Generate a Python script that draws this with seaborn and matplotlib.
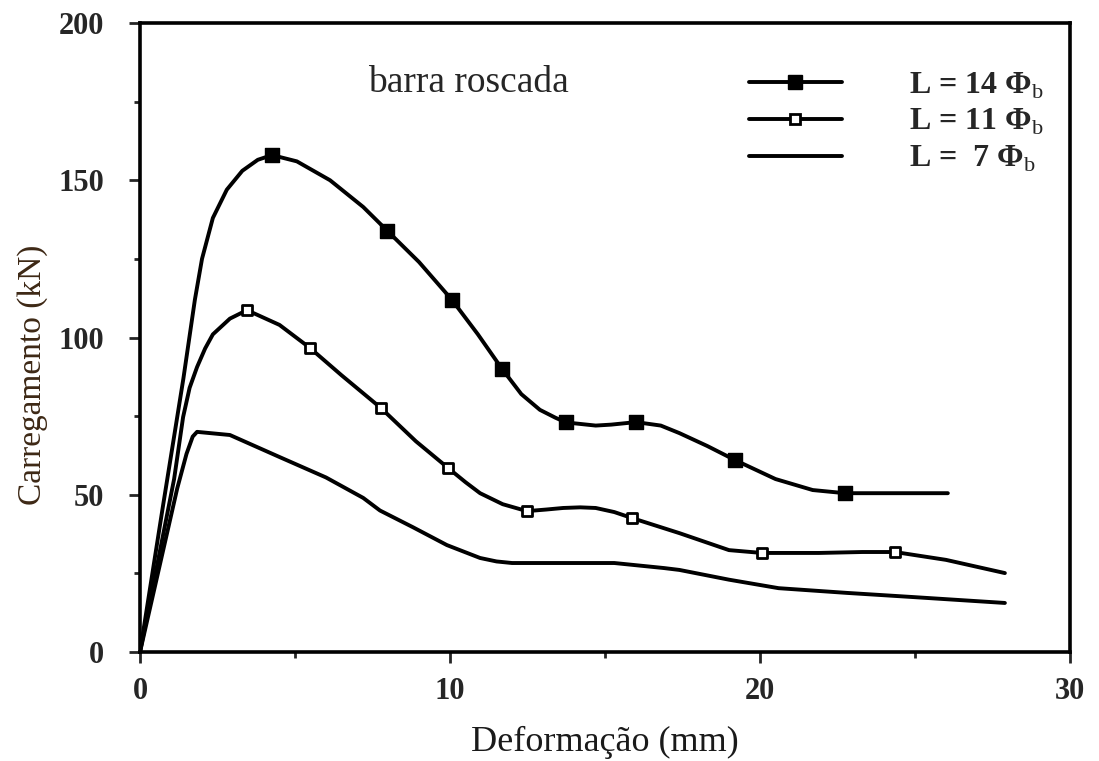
import numpy as np
import pandas as pd
import matplotlib
matplotlib.use('Agg')
import matplotlib.pyplot as plt
from matplotlib.lines import Line2D
from matplotlib.ticker import MultipleLocator
import seaborn as sns

# curve values (deformation mm, load kN)
x_14 = [0, 0.75, 1.4, 1.77, 2.0, 2.35, 2.8, 3.3, 3.8, 4.26, 5.06, 6.13, 7.2,
        7.97, 9.0, 10.06, 10.9, 11.68, 12.3, 12.9, 13.4, 13.74, 14.7, 15.2,
        16.0, 16.8, 17.4, 18.3, 19.2, 20.5, 21.7, 22.74, 24.5, 26.06]
y_14 = [0, 47, 87, 112, 125, 138, 147, 153, 156.5, 158, 156, 150, 141.5,
        134, 124, 112, 101, 90, 82, 77, 74.5, 73, 72, 72.3,
        73.1, 72, 69.6, 65.5, 61, 55, 51.5, 50.5, 50.5, 50.5]
mk_x_14 = [4.26, 7.97, 10.06, 11.68, 13.74, 16.0, 19.2, 22.74]
mk_y_14 = [158, 134, 112, 90, 73, 73.1, 61, 50.5]

x_11 = [0, 1.1, 1.39, 1.6, 1.84, 2.1, 2.35, 2.9, 3.45, 4.5, 5.48, 6.5, 7.77,
        8.9, 9.94, 10.5, 10.97, 11.7, 12.48, 13.1, 13.65, 14.2, 14.7, 15.3,
        15.87, 17.4, 19.0, 20.06, 21.9, 23.3, 24.35, 26.0, 27.9]
y_11 = [0, 55, 74.7, 84, 90.6, 96.5, 101, 106, 108.7, 104, 96.7, 88, 77.6,
        67, 58.5, 54, 50.5, 47, 44.8, 45.3, 45.8, 46, 45.8, 44.5,
        42.6, 37.8, 32.4, 31.5, 31.5, 31.8, 31.8, 29.3, 25.1]
mk_x_11 = [3.45, 5.48, 7.77, 9.94, 12.48, 15.87, 20.06, 24.35]
mk_y_11 = [108.7, 96.7, 77.6, 58.5, 44.8, 42.6, 31.5, 31.8]

x_7 = [0, 1.2, 1.5, 1.7, 1.84, 2.9, 4.5, 6.0, 7.2, 7.74, 8.8, 9.9, 10.97,
       11.5, 12.0, 15.3, 16.9, 17.4, 19.0, 20.6, 22.8, 24.9, 27.9]
y_7 = [0, 52, 63, 68.5, 70, 69, 62, 55.5, 49, 45, 39.7, 34, 29.9,
       28.8, 28.3, 28.3, 26.7, 26.1, 23, 20.3, 18.8, 17.5, 15.6]

labels = ['L = 14 Φ$_\\mathrm{b}$', 'L = 11 Φ$_\\mathrm{b}$',
          'L =  7 Φ$_\\mathrm{b}$']

sns.set_style('ticks')
plt.rcParams['font.family'] = ['Liberation Serif', 'DejaVu Serif']
plt.rcParams['mathtext.fontset'] = 'custom'
plt.rcParams['mathtext.rm'] = 'Liberation Serif'

lines = pd.concat([
    pd.DataFrame({'x': x_14, 'y': y_14, 'serie': labels[0]}),
    pd.DataFrame({'x': x_11, 'y': y_11, 'serie': labels[1]}),
    pd.DataFrame({'x': x_7, 'y': y_7, 'serie': labels[2]}),
])

fig = plt.figure(figsize=(10.99, 7.61), dpi=100)
ax = fig.add_axes([0.1274, 0.1432, 0.8462, 0.8266])

for s in labels:
    sns.lineplot(data=lines[lines.serie == s], x='x', y='y', ax=ax,
                 color='black', lw=2.8, sort=False, estimator=None)

sns.scatterplot(x=mk_x_14, y=mk_y_14, ax=ax, marker='s', s=95,
                color='black', edgecolor='black', linewidth=1, zorder=5)
sns.scatterplot(x=mk_x_11, y=mk_y_11, ax=ax, marker='s', s=45,
                color='white', edgecolor='black', linewidth=2, zorder=5)

ax.set_xlim(0, 30)
ax.set_ylim(0, 200)
ax.xaxis.set_major_locator(MultipleLocator(10))
ax.xaxis.set_minor_locator(MultipleLocator(5))
ax.yaxis.set_major_locator(MultipleLocator(50))
ax.yaxis.set_minor_locator(MultipleLocator(25))
ax.tick_params(which='major', direction='out', length=8, width=2,
               labelsize=22)
ax.tick_params(which='minor', direction='out', length=4, width=2)
ax.tick_params(axis='y', pad=18)
ax.tick_params(axis='x', pad=10)
for lab in ax.get_xticklabels() + ax.get_yticklabels():
    lab.set_fontweight('bold')
for sp in ax.spines.values():
    sp.set_linewidth(2.6)
    sp.set_color('black')

ax.set_xlabel('Deformação (mm)', fontsize=26, color='#1a1a1a', labelpad=14)
ax.set_ylabel('Carregamento (kN)', fontsize=24, color='#3d2815')
ax.yaxis.set_label_coords(-0.099, 0.44)

ax.text(10.6, 181, 'barra roscada', fontsize=27, ha='center', va='center')

handles = [
    Line2D([], [], color='black', lw=2.8, marker='s', markersize=10,
           markerfacecolor='black'),
    Line2D([], [], color='black', lw=2.8, marker='s', markersize=7,
           markerfacecolor='white', markeredgewidth=2),
    Line2D([], [], color='black', lw=2.8),
]
leg = ax.legend(handles, labels, loc='upper left',
                bbox_to_anchor=(0.655, 0.925), frameon=False, numpoints=1,
                handlelength=2.9, handletextpad=2.1, labelspacing=0.2,
                borderpad=0, borderaxespad=0,
                prop={'size': 23, 'weight': 'bold'})

fig.savefig('out.png', dpi=100)
plt.close()
